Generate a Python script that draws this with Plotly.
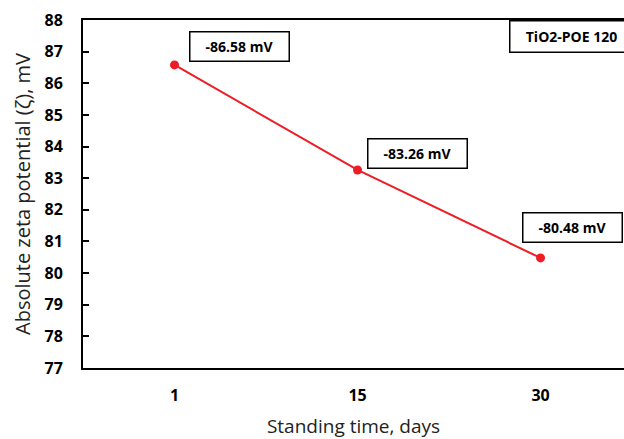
import plotly.graph_objects as go

days = ["1", "15", "30"]
zeta = [86.58, 83.26, 80.48]
labels = ["-86.58 mV", "-83.26 mV", "-80.48 mV"]
label_shift_x = [65, 60, 32]
label_shift_y = [18, 16, 30]

FONT = "Open Sans"
fig = go.Figure()
fig.add_trace(go.Scatter(
    x=days, y=zeta, mode="lines+markers",
    line=dict(color="#EE1C25", width=2),
    marker=dict(color="#EE1C25", size=9),
    showlegend=False, cliponaxis=False,
))

for i, (v, t, sx, sy) in enumerate(zip(zeta, labels, label_shift_x, label_shift_y)):
    fig.add_annotation(
        x=i, y=v, text="<b>%s</b>" % t, showarrow=False,
        xshift=sx, yshift=sy, font=dict(family=FONT, size=14, color="black"),
        bordercolor="black", borderwidth=1.5, borderpad=4, bgcolor="white",
        width=90, height=20,
    )

fig.add_annotation(
    xref="paper", yref="paper", x=0.787, y=1, xanchor="left", yanchor="top",
    text="<b>TiO2-POE 120</b>", showarrow=False,
    font=dict(family=FONT, size=14, color="black"),
    bordercolor="black", borderwidth=1.5, borderpad=4, bgcolor="white",
    width=114, height=22,
)

fig.update_layout(
    width=624, height=439,
    margin=dict(l=83, r=0, t=20, b=71),
    plot_bgcolor="white", paper_bgcolor="white",
    font=dict(family=FONT, color="black"),
    xaxis=dict(
        type="category", range=[-0.5, 2.456], automargin=False,
        showline=True, linecolor="black", linewidth=2, mirror=True,
        showgrid=False, ticks="", zeroline=False,
        ticklabelstandoff=12,
        tickfont=dict(family=FONT, size=16, color="black"),
        title=dict(text="Standing time, days", font=dict(family=FONT, size=19, color="#222"), standoff=24),
    ),
    yaxis=dict(
        range=[77, 88], dtick=1, automargin=False,
        showline=True, linecolor="black", linewidth=2,
        showgrid=False, zeroline=False,
        ticks="inside", ticklen=6, tickwidth=2, tickcolor="black",
        ticklabelstandoff=15,
        tickfont=dict(family=FONT, size=16, color="black"),
        title=dict(text="Absolute zeta potential (ζ), mV", font=dict(family=FONT, size=20, color="#222"), standoff=9),
    ),
)
fig.update_xaxes(tickprefix="<b>", ticksuffix="</b>")
fig.update_yaxes(tickprefix="<b>", ticksuffix="</b>")
fig.write_html("out.html")
